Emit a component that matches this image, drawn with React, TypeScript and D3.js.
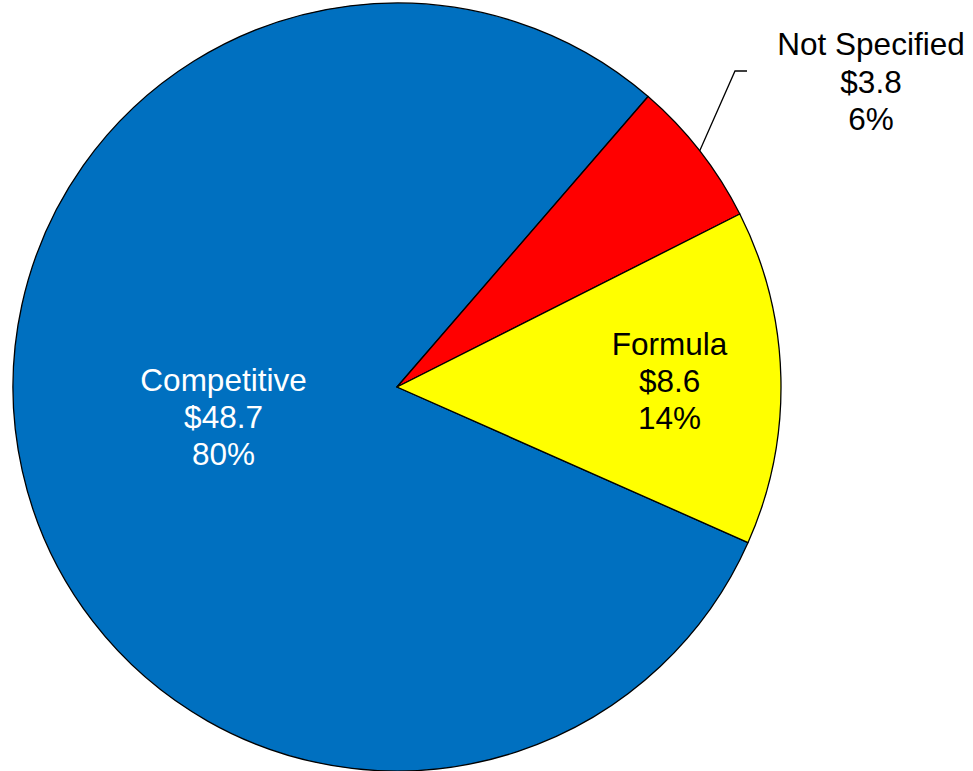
import React from "react";
import * as d3 from "d3";

const categories = ["Competitive", "Not Specified", "Formula"];
const values = [48.7, 3.8, 8.6];
const percents = ["80%", "6%", "14%"];
const colors = ["#0070C0", "#FF0000", "#FFFF00"];
const textColors = ["#FFFFFF", "#000000", "#000000"];

const W = 973;
const H = 771;
const CX = 397;
const CY = 387;
const R = 384;
const START_DEG = 113.9;
const FONT = "'Liberation Sans', Arial, sans-serif";
const FS = 31.5;
const LH = 37;

export default function App() {
  const data = categories.map((c, i) => ({ c, v: values[i], p: percents[i], color: colors[i], tc: textColors[i] }));
  const start = (START_DEG * Math.PI) / 180;
  const pie = d3
    .pie<any>()
    .sort(null)
    .value((d) => d.v)
    .startAngle(start)
    .endAngle(start + 2 * Math.PI);
  const arcs = pie(data);
  const arc = d3.arc<any>().innerRadius(0).outerRadius(R);

  const labelFor = (a: any) => {
    const mid = (a.startAngle + a.endAngle) / 2;
    const name = a.data.c;
    if (name === "Not Specified") {
      const p0 = [Math.sin(mid) * R, -Math.cos(mid) * R];
      const p1 = [338, -316];
      const p2 = [350, -316];
      const lines = [name, "$" + a.data.v.toFixed(1), a.data.p];
      return (
        <g key={name}>
          <polyline
            points={`${p0[0]},${p0[1]} ${p1[0]},${p1[1]} ${p2[0]},${p2[1]}`}
            fill="none"
            stroke="#000"
            strokeWidth={1.3}
          />
          {lines.map((t, i) => (
            <text
              key={i}
              x={474}
              y={-332 + i * LH + (i === 0 ? 0 : 1)}
              textAnchor="middle"
              fontFamily={FONT}
              fontSize={FS}
              fill={a.data.tc}
            >
              {t}
            </text>
          ))}
        </g>
      );
    }
    const rf = name === "Competitive" ? 0.463 : 0.71;
    const adj = name === "Competitive" ? 2 : 12;
    const x = Math.sin(mid) * R * rf;
    const y = -Math.cos(mid) * R * rf;
    const lines = [name, "$" + a.data.v.toFixed(1), a.data.p];
    return (
      <g key={name}>
        {lines.map((t, i) => (
          <text
            key={i}
            x={x}
            y={y + (i - 1) * LH + adj}
            textAnchor="middle"
            fontFamily={FONT}
            fontSize={FS}
            fill={a.data.tc}
          >
            {t}
          </text>
        ))}
      </g>
    );
  };

  return (
    <svg
      width={W}
      height={H}
      style={{ position: "absolute", left: 0, top: 0, background: "#fff" }}
    >
      <g transform={`translate(${CX},${CY})`}>
        {arcs.map((a, i) => (
          <path key={i} d={arc(a) as string} fill={a.data.color} stroke="#000" strokeWidth={1.3} strokeLinejoin="round" />
        ))}
        {arcs.map((a) => labelFor(a))}
      </g>
    </svg>
  );
}
